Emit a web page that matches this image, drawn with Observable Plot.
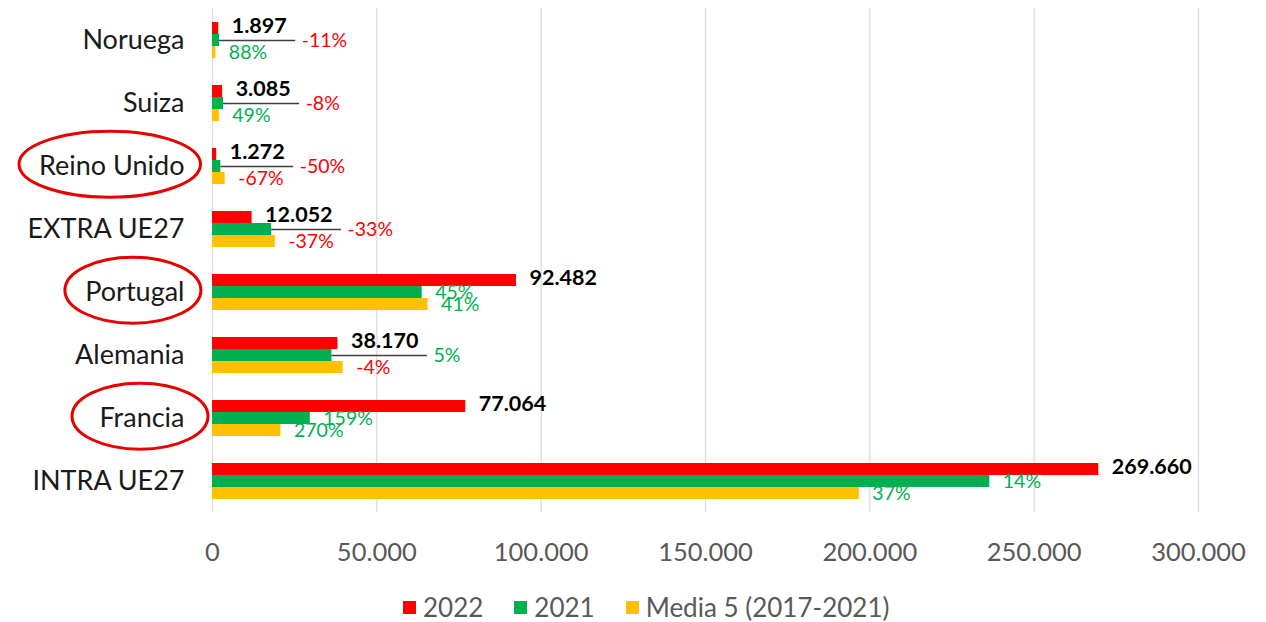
<!DOCTYPE html>
<html><head><meta charset="utf-8">
<script src="https://cdn.jsdelivr.net/npm/d3@7"></script>
<script src="https://cdn.jsdelivr.net/npm/@observablehq/plot@0.6"></script>
<style>
body{margin:0;background:#fff;font-family:Lato,sans-serif;}
#chart svg{display:block;}
[aria-label^="x-axis"] text{fill:#595959;font-size:25.5px;}
[aria-label^="fy-axis"] text{fill:#1a1a1a;font-size:27px;}
#legend{display:flex;align-items:center;padding-left:403px;margin-top:12px;height:30px;font-size:26px;color:#595959;font-family:Lato,sans-serif;}
#legend .item{display:flex;align-items:center;margin-right:31px;}
#legend .sw{width:13px;height:13px;margin-right:7px;}
</style></head><body>
<div id="chart"></div>
<div id="legend"></div>
<script>
const categories = ["Noruega","Suiza","Reino Unido","EXTRA UE27","Portugal","Alemania","Francia","INTRA UE27"];
const series = ["2022","2021","Media 5 (2017-2021)"];
const v2022 = [1897, 3085, 1272, 12052, 92482, 38170, 77064, 269660];
const v2021 = [2130, 3350, 2540, 18000, 63800, 36350, 29750, 236500];
const vMedia = [1010, 2070, 3850, 19100, 65600, 39750, 20830, 196800];
const pct2021 = ["-11%","-8%","-50%","-33%","45%","5%","159%","14%"];
const pctMedia = ["88%","49%","-67%","-37%","41%","-4%","270%","37%"];
const highlighted = ["Reino Unido","Portugal","Francia"];
const xTicks = [0,50000,100000,150000,200000,250000,300000];
const colors = ["#ff0000","#00b050","#ffc000"];

const fmt = d3.formatLocale({decimal:",", thousands:".", grouping:[3], currency:["","€"]}).format(",");
const W = 1266, mL = 212, mR = 68;
const pxPerUnit = (W - mL - mR) / 300000;
const ctx = document.createElement("canvas").getContext("2d");
ctx.font = "bold 21.5px Lato";
const rows = [];
categories.forEach((c, i) => {
  const callout = v2022[i] < 50000;
  const w = ctx.measureText(fmt(v2022[i])).width;
  const lineEnd = v2022[i] + (13 + w + 9) / pxPerUnit;
  rows.push({category:c, series:series[0], value:v2022[i], label:fmt(v2022[i]), callout, lineEnd});
  rows.push({category:c, series:series[1], value:v2021[i], label:pct2021[i], callout, lineEnd});
  rows.push({category:c, series:series[2], value:vMedia[i], label:pctMedia[i], callout, lineEnd});
});
const neg = d => d.label.startsWith("-");
const pctMarks = (filt, xField, dx) => [
  Plot.text(rows, {filter: d => filt(d) && neg(d), x:xField, y:"series", text:"label", textAnchor:"start", dx, fontSize:19.5, fill:"#ff0000"}),
  Plot.text(rows, {filter: d => filt(d) && !neg(d), x:xField, y:"series", text:"label", textAnchor:"start", dx, fontSize:19.5, fill:"#00b050"})
];

const chart = Plot.plot({
  width: W, height: 580, marginLeft: mL, marginRight: mR, marginTop: 7, marginBottom: 67,
  style: {fontFamily: "Lato, sans-serif", fontSize: "24px", background: "#fff", overflow: "visible"},
  facet: {data: rows, y: "category"},
  fy: {domain: categories, padding: 0, tickSize: 0, tickPadding: 28, label: null, axis: "left"},
  y: {domain: series, axis: null, paddingInner: 0, paddingOuter: 0.93},
  x: {domain: [0, 300000], ticks: 6, tickFormat: fmt, tickSize: 0, tickPadding: 30, label: null},
  marks: [
    Plot.ruleX(xTicks, {x: d => d, stroke: "#d9d9d9", strokeWidth: 1.2}),
    ...series.map((s, k) => Plot.barX(rows, {filter: d => d.series === s, x: "value", y: "series", fill: colors[k]})),
    Plot.ruleY(rows, {filter: d => d.callout && d.series === series[1], y: "series", x1: "value", x2: "lineEnd", stroke: "#404040", strokeWidth: 1.5}),
    Plot.text(rows, {filter: d => d.series === series[0], x: "value", y: "series", text: "label", textAnchor: "start", dx: 13, dy: -2, fontSize: 21.5, fontWeight: "bold", fill: "#000"}),
    ...pctMarks(d => d.series === series[1] && !d.callout, "value", 13),
    ...pctMarks(d => d.series === series[1] && d.callout, "lineEnd", 6),
    ...pctMarks(d => d.series === series[2], "value", 13)
  ]
});
document.getElementById("chart").append(chart);

const sr = chart.getBoundingClientRect();
chart.querySelectorAll('[aria-label^="fy-axis"] text').forEach(t => {
  if (highlighted.includes(t.textContent)) {
    const b = t.getBoundingClientRect();
    const e = document.createElementNS("http://www.w3.org/2000/svg", "ellipse");
    e.setAttribute("cx", b.x - sr.x + b.width / 2 - 2);
    e.setAttribute("cy", b.y - sr.y + b.height / 2);
    e.setAttribute("rx", Math.max(b.width / 2 + 18, 68));
    e.setAttribute("ry", 33);
    e.setAttribute("fill", "none");
    e.setAttribute("stroke", "#e60000");
    e.setAttribute("stroke-width", 3);
    chart.append(e);
  }
});

const lg = document.getElementById("legend");
series.forEach((s, k) => {
  const it = document.createElement("div"); it.className = "item";
  const sw = document.createElement("div"); sw.className = "sw"; sw.style.background = colors[k];
  const tx = document.createElement("span"); tx.textContent = s;
  it.append(sw, tx); lg.append(it);
});
</script>
</body></html>
